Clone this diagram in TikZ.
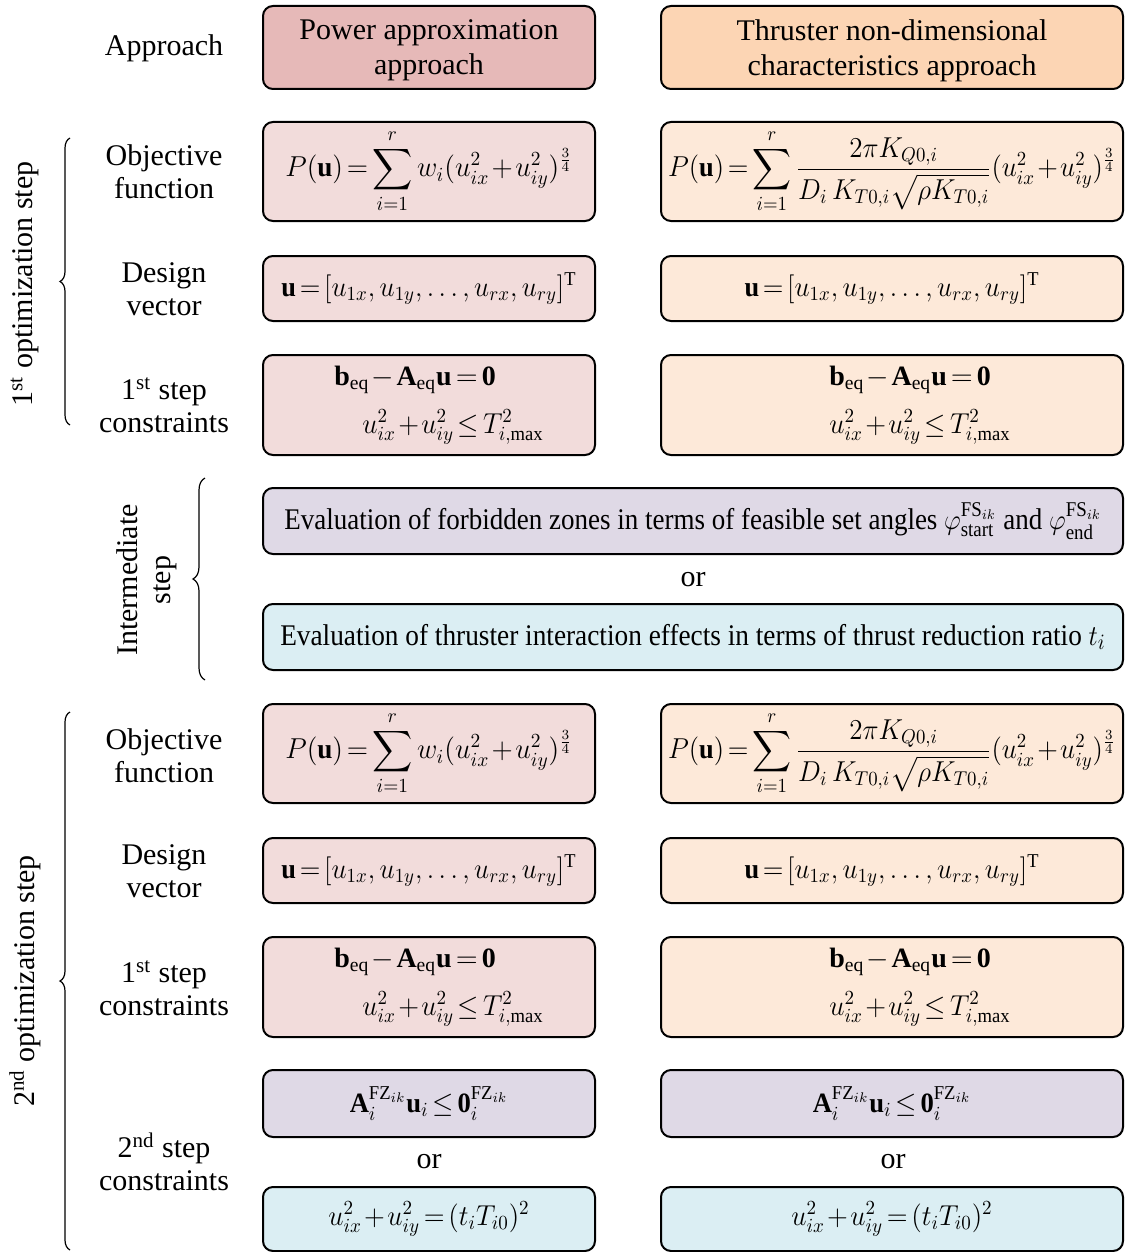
\documentclass[tikz,border=0pt]{standalone}
\usepackage{fontspec}
\setmainfont{Liberation Serif}
\usepackage{amsmath}
\usepackage{graphicx}
\usetikzlibrary{decorations.pathreplacing}

\medmuskip=1.5mu
\thickmuskip=2.5mu

\definecolor{apprL}{HTML}{E6B9B8}
\definecolor{apprR}{HTML}{FCD5B4}
\definecolor{cellL}{HTML}{F2DCDB}
\definecolor{cellR}{HTML}{FDE9D9}
\definecolor{zoneP}{HTML}{DFD9E6}
\definecolor{ratioC}{HTML}{DBEEF3}

\newcommand{\objPow}{\scalebox{0.97}[1]{$\displaystyle P(\mathbf{u})=\sum_{i=1}^{r} w_i(u_{ix}^2+u_{iy}^2)^{\frac{3}{4}}$}}
\newcommand{\objThr}{\scalebox{0.94}[1]{$\displaystyle P(\mathbf{u})=\sum_{i=1}^{r}\frac{2\pi K_{Q0,i}}{D_i\,K_{T0,i}\sqrt{\rho K_{T0,i}}}(u_{ix}^2+u_{iy}^2)^{\frac{3}{4}}$}}
\newcommand{\desVec}{\scalebox{0.94}[1]{$\mathbf{u}=[u_{1x},u_{1y},\ldots,u_{rx},u_{ry}]^{\mathrm{T}}$}}
\newcommand{\eqCon}{$\mathbf{b}_{\mathrm{eq}}-\mathbf{A}_{\mathrm{eq}}\mathbf{u}=\mathbf{0}$}
\newcommand{\maxCon}{\scalebox{0.95}[1]{$u_{ix}^2+u_{iy}^2\le T_{i,\max}^2$}}
\newcommand{\fzCon}{\scalebox{0.95}[1]{$\mathbf{A}_i^{\mathrm{FZ}_{ik}}\mathbf{u}_i\le\mathbf{0}_i^{\mathrm{FZ}_{ik}}$}}
\newcommand{\tiCon}{\scalebox{0.95}[1]{$u_{ix}^2+u_{iy}^2=(t_iT_{i0})^2$}}

\tikzset{
  cell/.style={draw, line width=1pt, rounded corners=5pt, align=center, inner sep=1pt,
    font=\fontsize{15}{17.5}\selectfont},
  colL/.style={cell, minimum width=166pt},
  colR/.style={cell, minimum width=231pt},
  colW/.style={cell, minimum width=430pt},
  rowlab/.style={align=center, font=\fontsize{15}{16.5}\selectfont},
  steplab/.style={rotate=90, align=center, font=\fontsize{15}{16.5}\selectfont},
  mbox/.style={font=\fontsize{14}{17}\selectfont},
  bracket/.style={decorate, decoration={brace, amplitude=5pt}, line width=0.6pt},
}

\begin{document}
\begin{tikzpicture}[x=0.5pt,y=-0.5pt]
\useasboundingbox (0,0) rectangle (1124,1252);

% row labels
\node[rowlab] (labAppr) at (164,48) {Approach};
\node[rowlab] (labObj1) at (164,172) {Objective\\function};
\node[rowlab] (labDv1) at (164,289) {Design\\vector};
\node[rowlab] (labCon1) at (164,405) {1\textsuperscript{st} step\\constraints};
\node[rowlab] (labObj2) at (164,756) {Objective\\function};
\node[rowlab] (labDv2) at (164,871) {Design\\vector};
\node[rowlab] (labCon2) at (164,988) {1\textsuperscript{st} step\\constraints};
\node[rowlab] (labSec2) at (164,1162) {2\textsuperscript{nd} step\\constraints};

% approach headers
\node[colL, fill=apprL, minimum height=41.5pt, text depth=0pt] (apprL) at (429,47.5) {Power approximation\\approach};
\node[colR, fill=apprR, minimum height=41.5pt, text depth=0pt] (apprR) at (892,47.5) {Thruster non-dimensional\\characteristics approach};

% 1st optimization step
\node[colL, fill=cellL, minimum height=49.5pt, mbox] (objL1) at (429,171.5) {\objPow};
\node[colR, fill=cellR, minimum height=49.5pt, mbox] (objR1) at (892,171.5) {\objThr};
\node[colL, fill=cellL, minimum height=32.5pt, mbox] (dvL1) at (429,288.5) {\desVec};
\node[colR, fill=cellR, minimum height=32.5pt, mbox] (dvR1) at (892,288.5) {\desVec};
\node[colL, fill=cellL, minimum height=50pt, mbox] (conL1) at (429,405)
  {\eqCon\hspace*{14pt}\\[7pt] \hspace*{24pt}\maxCon};
\node[colR, fill=cellR, minimum height=50pt, mbox] (conR1) at (892,405)
  {\hspace*{18pt}\eqCon\\[7pt] \hspace*{28pt}\maxCon};

% intermediate step
\node[colW, fill=zoneP, minimum height=33pt] (zoneW) at (693,521)
  {\scalebox{0.9}[1]{Evaluation of forbidden zones in terms of feasible set angles
   $\varphi_{\mathrm{start}}^{\mathrm{FS}_{ik}}$ and $\varphi_{\mathrm{end}}^{\mathrm{FS}_{ik}}$}};
\node[rowlab] (orW) at (693,580) {or};
\node[colW, fill=ratioC, minimum height=33pt] (ratioW) at (693,637)
  {\scalebox{0.91}[1]{Evaluation of thruster interaction effects in terms of thrust reduction ratio $t_i$}};

% 2nd optimization step
\node[colL, fill=cellL, minimum height=49.5pt, mbox] (objL2) at (429,753.5) {\objPow};
\node[colR, fill=cellR, minimum height=49.5pt, mbox] (objR2) at (892,753.5) {\objThr};
\node[colL, fill=cellL, minimum height=32.5pt, mbox] (dvL2) at (429,870.5) {\desVec};
\node[colR, fill=cellR, minimum height=32.5pt, mbox] (dvR2) at (892,870.5) {\desVec};
\node[colL, fill=cellL, minimum height=50pt, mbox] (conL2) at (429,987)
  {\eqCon\hspace*{14pt}\\[7pt] \hspace*{24pt}\maxCon};
\node[colR, fill=cellR, minimum height=50pt, mbox] (conR2) at (892,987)
  {\hspace*{18pt}\eqCon\\[7pt] \hspace*{28pt}\maxCon};
\node[colL, fill=zoneP, minimum height=33.5pt, mbox] (zoneL) at (429,1103.5) {\fzCon};
\node[colR, fill=zoneP, minimum height=33.5pt, mbox] (zoneR) at (892,1103.5) {\fzCon};
\node[rowlab] (orL) at (429,1162) {or};
\node[rowlab] (orR) at (893,1162) {or};
\node[colL, fill=ratioC, minimum height=32pt, mbox] (ratioL) at (429,1219) {\tiCon};
\node[colR, fill=ratioC, minimum height=32pt, mbox] (ratioR) at (892,1219) {\tiCon};

% braces and step labels
\coordinate (b1top) at (70,138);
\coordinate (b1bot) at (70,425);
\coordinate (bItop) at (205,478);
\coordinate (bIbot) at (205,680);
\coordinate (b2top) at (70,712);
\coordinate (b2bot) at (70,1250);
\draw[bracket] (b1bot) -- (b1top);
\draw[bracket, decoration={amplitude=6pt}] (bIbot) -- (bItop);
\draw[bracket] (b2bot) -- (b2top);
\node[steplab] (step1) at (25,284) {1\textsuperscript{st} optimization step};
\node[steplab] (stepI) at (147,580) {Intermediate\\step};
\node[steplab] (step2) at (25,981) {2\textsuperscript{nd} optimization step};

\end{tikzpicture}
\end{document}
